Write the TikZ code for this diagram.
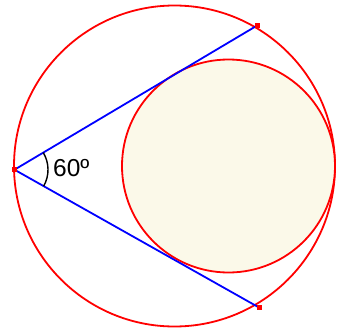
\documentclass[tikz,border=0pt]{standalone}
\usepackage{fontspec}
\setmainfont{Liberation Sans}
\begin{document}
\begin{tikzpicture}[x=1pt,y=-1pt,
  circ/.style={draw=red,line width=1.8pt},
  seg/.style={draw=blue,line width=1.8pt},
  pt/.style={fill=red,inner sep=0pt,minimum size=5pt,rectangle}]
\definecolor{cream}{RGB}{251,249,233}
\useasboundingbox (0,0) rectangle (337,329);
\coordinate (O) at (174.5,166);
\coordinate (C) at (228.5,166);
\draw[circ] (O) circle[radius=160.5];
\draw[circ,fill=cream] (C) circle[radius=106.5];
\node[pt] (P) at (14.5,169.7) {};
\node[pt] (A) at (257.5,25.3) {};
\node[pt] (B) at (259,307.5) {};
\draw[seg] (P.center) -- (A.center);
\draw[seg] (P.center) -- (B.center);
\draw[line width=1.4pt] ([shift={(-30.7:33.5)}]P.center) arc[start angle=-30.7,end angle=29.4,radius=33.5];
\node[anchor=west,inner sep=0pt,font=\fontsize{24.5}{29}\selectfont] (L) at (53,168.5) {60º};
\node[pt] at (P) {};
\node[pt] at (A) {};
\node[pt] at (B) {};
\end{tikzpicture}
\end{document}
